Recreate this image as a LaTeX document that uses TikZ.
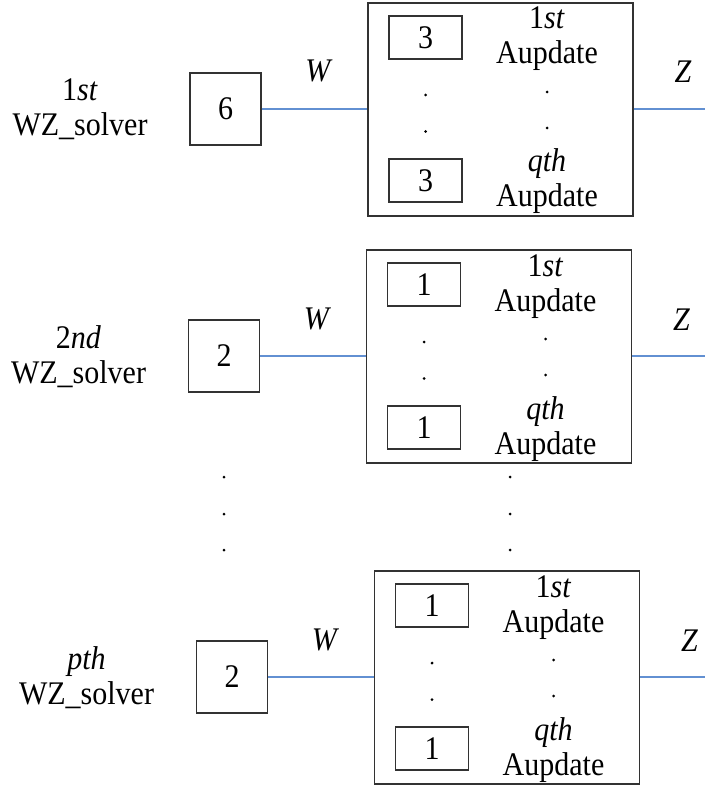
\documentclass[tikz,border=0pt]{standalone}
\usepackage{fontspec}
\setmainfont{Liberation Serif}
\definecolor{wireblue}{RGB}{98,144,210}
\definecolor{boxline}{RGB}{50,50,50}

% text set slightly taller than wide
\newcommand\tall[1]{\scalebox{1}[1.1]{#1}}

% One solver row: #1 tag, #2 x shift, #3 row centre y,
% #4 ordinal, #5 solver value, #6 update value
\newcommand\solverrow[6]{%
  \begin{scope}[shift={(#2,#3)}]
    \node[lbl, anchor=base] (ord#1) at (80,-8) {\tall{#4}};
    \node[lbl, anchor=base] (wz#1) at (80,27) {\tall{WZ\_solver}};
    \node[solverbox] (s#1) at (225.5,0) {\tall{#5}};
    \node[lbl, anchor=base] (w#1) at (319,-27) {\tall{\textit{W}}};
    \node[groupbox] (g#1) at (500.5,0.5) {};
    \node[updbox] (ua#1) at (425.5,-71.5) {\tall{#6}};
    \node[updbox] (ub#1) at (425.5,71.5) {\tall{#6}};
    \fill (425.5,-14) circle (1.5pt) (425.5,22.5) circle (1.5pt);
    \node[lbl, anchor=base] (ta#1) at (547,-80) {\tall{1\textit{st}}};
    \node[lbl, anchor=base] (tb#1) at (547,-45) {\tall{Aupdate}};
    \fill (547,-17) circle (1.5pt) (547,19) circle (1.5pt);
    \node[lbl, anchor=base] (tc#1) at (547,63) {\tall{\textit{qth}}};
    \node[lbl, anchor=base] (td#1) at (547,98) {\tall{Aupdate}};
    \node[lbl, anchor=base] (z#1) at (683,-26) {\tall{\textit{Z}}};
  \end{scope}
  \draw[wire] (s#1.east) -- (s#1.east -| g#1.west);
  \draw[wire] (g#1.east |- s#1.east) -- (s#1.east -| edge);
}

\begin{document}
\begin{tikzpicture}[x=1pt, y=-1pt,
  lbl/.style={font=\fontsize{30}{36}\selectfont, inner sep=0pt},
  outline/.style={draw=boxline, line width=1.2pt, inner sep=0pt,
    font=\fontsize{30}{36}\selectfont},
  solverbox/.style={outline, minimum width=71pt, minimum height=72pt},
  groupbox/.style={outline, minimum width=265pt, minimum height=213pt},
  updbox/.style={outline, minimum width=73pt, minimum height=43pt},
  wire/.style={draw=wireblue, line width=1.2pt}]
  \useasboundingbox (0,0) rectangle (705,786);
  \coordinate (edge) at (705,0);

  \solverrow{1}{0}{109}{1\textit{st}}{6}{3}
  \solverrow{2}{-1.5}{356}{2\textit{nd}}{2}{1}
  \solverrow{3}{6.5}{677}{\textit{pth}}{2}{1}

  % vertical ellipsis between the second and last rows
  \foreach \yy in {477,514,550} {
    \fill (224,\yy) circle (1.5pt);
    \fill (510,\yy) circle (1.5pt);
  }
\end{tikzpicture}
\end{document}
